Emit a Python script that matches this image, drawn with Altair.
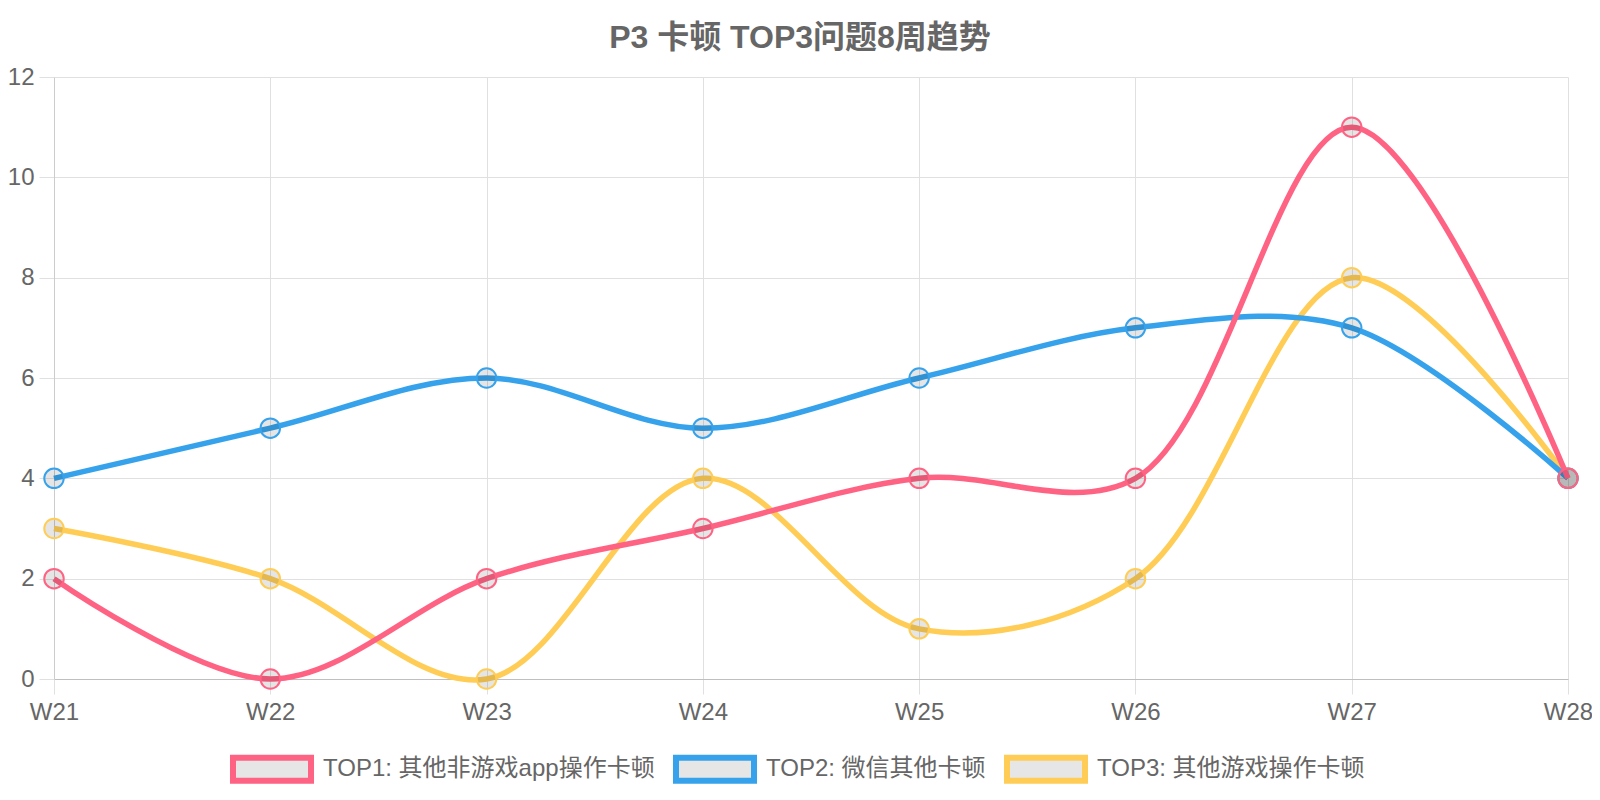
import altair as alt
import pandas as pd

weeks = ["W21", "W22", "W23", "W24", "W25", "W26", "W27", "W28"]
series_names = ["TOP1: 其他非游戏app操作卡顿", "TOP2: 微信其他卡顿", "TOP3: 其他游戏操作卡顿"]
top1 = [2, 0, 2, 3, 4, 4, 11, 4]
top2 = [4, 5, 6, 5, 6, 7, 7, 4]
top3 = [3, 2, 0, 4, 1, 2, 8, 4]
colors = ["#ff6384", "#36a2eb", "#ffcd56"]
y_ticks = [0, 2, 4, 6, 8, 10, 12]
title_text = "P3 卡顿 TOP3问题8周趋势"

rows = []
for name, vals in zip(series_names, [top1, top2, top3]):
    for w, v in zip(weeks, vals):
        rows.append({"week": w, "value": v, "series": name})
df = pd.DataFrame(rows)

FONT = "Liberation Sans, Arial, Noto Sans CJK SC, sans-serif"
GRID = "#e0e0e0"

x_enc = alt.X(
    "week:N", sort=weeks,
    scale=alt.Scale(type="point", padding=0),
    axis=alt.Axis(title=None, labelAngle=0, grid=True, gridColor=GRID,
                  tickColor=GRID, tickSize=15, domainColor="#bfbfbf",
                  labelFontSize=24, labelColor="#666666", labelFont=FONT,
                  labelPadding=6),
)
y_enc = alt.Y(
    "value:Q",
    scale=alt.Scale(domain=[0, 12], nice=False),
    axis=alt.Axis(title=None, values=y_ticks, grid=True, gridColor=GRID,
                  tickColor=GRID, tickSize=15, domainColor="#cccccc",
                  labelFontSize=24, labelColor="#666666", labelFont=FONT,
                  labelPadding=5),
)
color_enc = alt.Color(
    "series:N",
    scale=alt.Scale(domain=series_names, range=colors),
    legend=alt.Legend(
        title=None, orient="none", legendX=176, legendY=650,
        direction="horizontal",
        symbolType="M-1,-0.295H1V0.295H-1Z", symbolSize=6084,
        symbolStrokeWidth=6, symbolFillColor="#e6e6e6",
        labelFontSize=24, labelColor="#666666", labelFont=FONT,
        labelLimit=1000, columnPadding=9, labelOffset=9,
    ),
)
stroke_enc = alt.Stroke(
    "series:N",
    scale=alt.Scale(domain=series_names, range=colors),
    legend=None,
)

base = alt.Chart(df)
layers = []
for name in reversed(series_names):
    sub = base.transform_filter(alt.datum.series == name)
    layers.append(
        sub.mark_line(strokeWidth=5.5, interpolate="catmull-rom")
        .encode(x=x_enc, y=y_enc, color=color_enc)
    )
    layers.append(
        sub.mark_point(shape="circle", size=380, filled=False, fill="#000000",
                       fillOpacity=0.1, strokeWidth=2, opacity=1)
        .encode(x=x_enc, y=y_enc, stroke=stroke_enc)
    )

chart = alt.layer(*layers).properties(
    width=1514, height=602,
    padding={"left": 46, "top": 69, "right": 24, "bottom": 113},
    autosize=alt.AutoSizeParams(type="none"),
    title=alt.Title(title_text, fontSize=32, fontWeight="bold", color="#666666",
                    font=FONT, anchor="middle", offset=10, dx=-11),
).configure_view(stroke=None)

chart.save("out.html", embed_options={"renderer": "svg", "actions": False})
